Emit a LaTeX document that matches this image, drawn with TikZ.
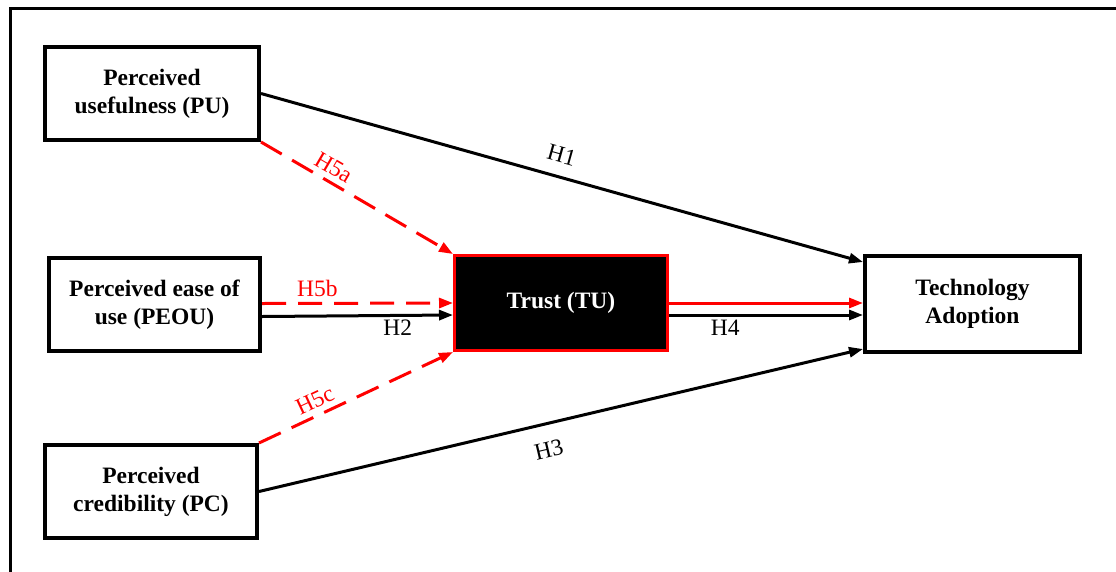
\documentclass[tikz,border=0pt]{standalone}
\usepackage{fontspec}
\setmainfont{Liberation Serif}
\usetikzlibrary{arrows.meta}
\definecolor{hypred}{RGB}{255,0,0}

\begin{document}
\begin{tikzpicture}[x=1pt, y=-1pt,
	construct/.style={draw=black, line width=4pt, fill=white, align=center, inner sep=2pt,
		font=\fontsize{23.5}{28}\selectfont\bfseries},
	link/.style={line width=3pt, -{Triangle[length=14pt,width=10pt]}},
	hyplink/.style={link, draw=hypred, dash pattern=on 24pt off 12pt},
	lbl/.style={font=\fontsize{23.5}{26}\selectfont, sloped}]
	\clip (0,0) rectangle (1116,571);
	\draw[line width=3pt] (10,8) rectangle (1150,600);
	% constructs
	\node[construct, minimum width=214pt, minimum height=93pt] (pu) at (152,93.5) {Perceived\\usefulness (PU)};
	\node[construct, minimum width=211pt, minimum height=93pt] (peou) at (154.5,304.5) {Perceived ease of\\use (PEOU)};
	\node[construct, minimum width=212pt, minimum height=93pt] (pc) at (151,491.5) {Perceived\\credibility (PC)};
	\node[construct, draw=hypred, fill=black, text=white, line width=3pt, minimum width=213pt, minimum height=95pt] (tu) at (561,303) {Trust (TU)};
	\node[construct, minimum width=215pt, minimum height=96pt] (ta) at (972.5,304) {Technology\\Adoption};
	% direct paths
	\draw[link] (pu.east) -- ([yshift=42pt]ta.west) node[lbl, pos=0.49, above=9pt] {H1};
	\draw[link] ([yshift=-12pt]peou.east) -- ([yshift=-12pt]tu.west) node[lbl, pos=0.71, below=0pt] {H2};
	\draw[link] (pc.east) -- ([yshift=-45pt]ta.west) node[lbl, pos=0.47, below=13pt] {H3};
	\draw[link] ([yshift=-12pt]tu.east) -- ([yshift=-11pt]ta.west) node[lbl, pos=0.29, below=0pt] {H4};
	\draw[link, draw=hypred] (tu.east) -- ([yshift=1pt]ta.west);
	% mediated paths
	\draw[hyplink] (pu.south east) -- (tu.north west) node[lbl, text=hypred, pos=0.34, above=2pt] {H5a};
	\draw[hyplink] ([yshift=1pt]peou.east) -- (tu.west) node[lbl, text=hypred, pos=0.29, above=2pt] {H5b};
	\draw[hyplink] (pc.north east) -- (tu.south west) node[lbl, text=hypred, pos=0.32, above=2pt] {H5c};
\end{tikzpicture}
\end{document}
